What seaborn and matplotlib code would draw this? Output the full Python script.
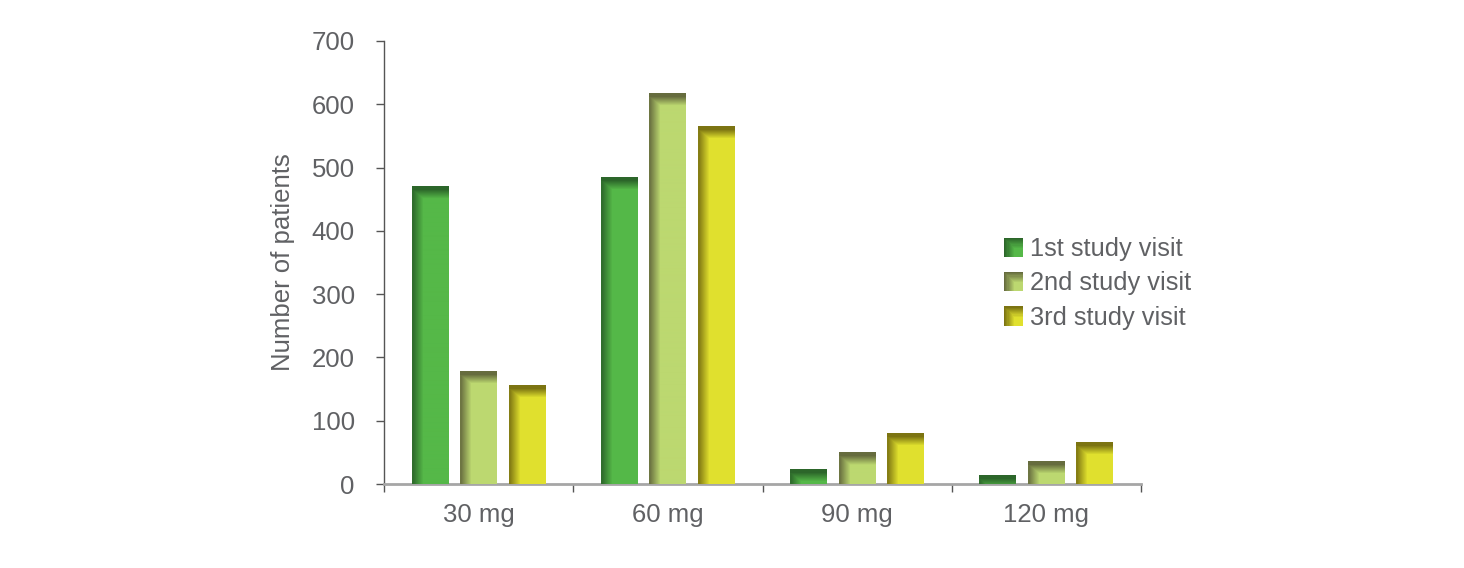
import numpy as np
import pandas as pd
import seaborn as sns
import matplotlib.pyplot as plt
from matplotlib.patches import Rectangle
from matplotlib.legend_handler import HandlerBase
from matplotlib.colors import to_rgb

doses = ['30 mg', '60 mg', '90 mg', '120 mg']
visits = ['1st study visit', '2nd study visit', '3rd study visit']
visit1 = [470, 485, 23, 14]
visit2 = [178, 617, 49, 36]
visit3 = [156, 565, 80, 66]

base_cols = ['#55b848', '#bcd870', '#e0e02e']
dark_cols = ['#2c662a', '#666c3e', '#7c7412']
txt = '#606164'

sns.set_theme(style='white')
plt.rcParams['font.family'] = ['Liberation Sans', 'DejaVu Sans']

df = pd.DataFrame({
    'dose': doses * 3,
    'visit': [visits[0]] * 4 + [visits[1]] * 4 + [visits[2]] * 4,
    'n': visit1 + visit2 + visit3,
})

fig = plt.figure(figsize=(14.64, 5.68), dpi=100)
ax = fig.add_axes([384 / 1464, 84 / 568, 757 / 1464, 443 / 568])

sns.barplot(data=df, x='dose', y='n', hue='visit', order=doses, hue_order=visits,
            palette=base_cols, width=0.77, gap=0.24, legend=False, ax=ax,
            linewidth=0, saturation=1)
ax.set_xlim(-0.5, 3.5)
ax.set_ylim(0, 700)


def shade(base, dark, w, h):
    # dark band along the top and the left side of each bar
    yy = np.arange(h)[:, None]
    xx = np.arange(w)[None, :]
    ft = np.clip(1 - (yy - 3) / 9, 0, 1)
    fl = np.clip(1 - (xx - 1) / 10, 0, 1) * 0.9
    f = np.maximum(ft, fl)[..., None]
    return np.array(to_rgb(base)) * (1 - f) + np.array(to_rgb(dark)) * f


for i, cont in enumerate(ax.containers):
    for p in cont:
        x0, y0 = p.get_x(), p.get_y()
        x1, y1 = x0 + p.get_width(), y0 + p.get_height()
        (px0, py0), (px1, py1) = ax.transData.transform([(x0, y0), (x1, y1)])
        w, h = max(int(round(px1 - px0)), 1), max(int(round(py1 - py0)), 1)
        img = shade(base_cols[i], dark_cols[i], w, h)
        ax.imshow(img, extent=(x0, x1, y0, y1), aspect='auto', origin='upper',
                  interpolation='bilinear', zorder=3)

ax.set_xlim(-0.5, 3.5)
ax.set_ylim(0, 700)

ax.set_yticks(range(0, 701, 100))
ax.set_xticks([-0.5, 0.5, 1.5, 2.5, 3.5], minor=True)
ax.tick_params(axis='x', which='major', length=0, pad=13.5, labelsize=18.5, labelcolor=txt)
ax.tick_params(axis='x', which='minor', bottom=True, length=6, width=1, color='#555555')
ax.tick_params(axis='y', left=True, length=6, width=1, color='#555555', pad=15,
               labelsize=18.5, labelcolor=txt)

sns.despine(ax=ax)
ax.spines['left'].set_color('#555555')
ax.spines['left'].set_linewidth(1)
ax.spines['bottom'].set_color('#a6a6a6')
ax.spines['bottom'].set_linewidth(2)

ax.set_xlabel('')
ax.set_ylabel('Number of patients', fontsize=18.5, color=txt, labelpad=12)


class GradHandler(HandlerBase):
    def __init__(self, base, dark):
        super().__init__()
        self.base = np.array(to_rgb(base))
        self.dark = np.array(to_rgb(dark))

    def create_artists(self, legend, orig_handle, xdescent, ydescent, width, height,
                       fontsize, trans):
        arts = []
        n = 10
        for k in range(n):
            s = 0.6 * k / n
            t = k / (n - 1)
            col = self.dark * (1 - t) + self.base * t
            r = Rectangle((-xdescent + width * s, -ydescent), width * (1 - s),
                          height * (1 - s), facecolor=col, edgecolor='none',
                          transform=trans)
            arts.append(r)
        return arts


handles = [Rectangle((0, 0), 1, 1, color=c) for c in base_cols]
hmap = {h: GradHandler(b, d) for h, b, d in zip(handles, base_cols, dark_cols)}
leg = fig.legend(handles, visits, handler_map=hmap, loc='upper left',
                 bbox_to_anchor=(1004 / 1464, 1 - 237 / 568), frameon=False,
                 fontsize=18.3, labelcolor=txt, handlelength=0.74, handleheight=0.78,
                 handletextpad=0.27, labelspacing=0.41, borderpad=0, borderaxespad=0)

fig.savefig('out.png', dpi=100)
